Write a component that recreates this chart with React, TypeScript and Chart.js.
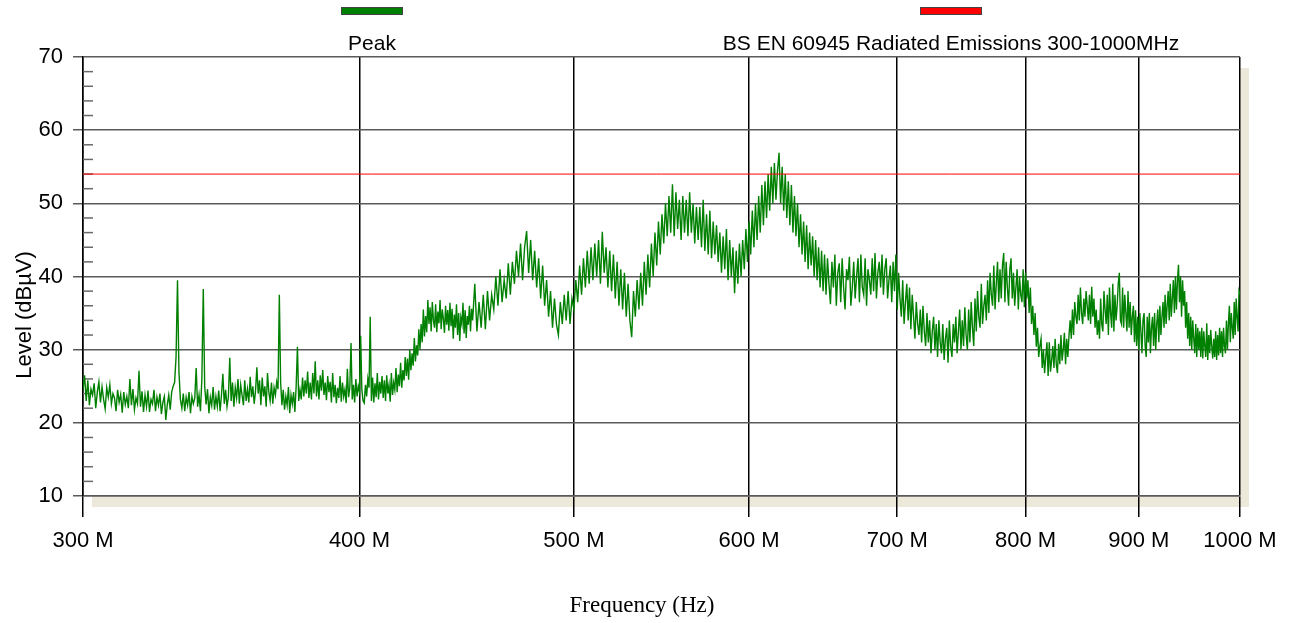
import React, { useEffect, useRef } from 'react';
import { Chart, registerables } from 'chart.js';

Chart.register(...registerables);

// Sweep below 450 MHz: 0.5 MHz step; from 450 MHz: 1 MHz step
const FINE_START_MHZ = 300;
const FINE_STEP_MHZ = 0.5;
const COARSE_START_MHZ = 450;
const COARSE_STEP_MHZ = 1;

// Peak level (dBµV)
const PEAK_300_349 = [
  24.5, 26.5, 23, 25.8, 22.4, 24.6, 23.8, 25.4, 22, 24.2, 25.6, 22.8, 24.9, 23.2, 21.9, 24.8, 23.5, 25.2, 22.6, 24,
  23.4, 21.6, 24.5, 22.8, 23.9, 21.4, 24.2, 22.5, 23.6, 22, 26, 22.4, 24.6, 21.8, 23.4, 22.6, 27.1, 22.2, 24.3, 21.5,
  23.8, 22.2, 24.4, 21.5, 23.2, 22.6, 24.5, 21.6, 23.5, 22.4, 24, 21.2, 22.8, 23.6, 20.4, 22.5, 23.8, 21.8, 24.2, 25,
  25.5, 29, 39.5, 27, 23.2, 22, 24, 21.6, 23.5, 22.4, 24.2, 21.3, 23.6, 22.6, 23.4, 27.5, 22.2, 23.8, 21.6, 26,
  38.3, 25, 22.5, 24.6, 21.3, 23.5, 22.4, 24.9, 21.8, 23.6, 22.2, 24.4, 21.6, 23.8, 26.7, 22.6, 24.5, 22.2, 23.5, 28.9,
];
const PEAK_350_399 = [
  23, 25.5, 22.2, 24.8, 23.4, 26, 22.6, 25.2, 23.8, 22.4, 25.8, 23, 24.6, 22.8, 26.3, 23.5, 25, 22.6, 24.4, 27.6,
  24, 25.8, 22.4, 26.2, 23.6, 25, 22.2, 26.8, 24.2, 23, 25.5, 22.6, 24.8, 23.8, 25.6, 24.6, 37.5, 25.5, 22.4, 24.5,
  21.8, 23.6, 22.4, 24.9, 21.3, 23.8, 22.6, 24.2, 21.5, 25, 30.4, 23, 24.5, 23.2, 26.2, 23.6, 25.8, 24, 27, 23.4,
  25.5, 23.2, 26.8, 24, 28.4, 23.6, 25.8, 23.2, 26.5, 24.4, 27.2, 23.8, 25.5, 23.1, 26.4, 24.2, 25.6, 22.8, 26.8, 23.5,
  25.2, 22.7, 24.8, 23.4, 26.4, 22.9, 25.5, 23.6, 24.6, 22.7, 27.4, 23.5, 24.8, 30.9, 23.2, 25.2, 22.8, 26, 23.6, 25,
];
const PEAK_400_449 = [
  24.2, 31.9, 24.5, 23, 22.7, 25.2, 23.6, 26, 24.8, 34.5, 23, 26.2, 22.8, 25.4, 23.5, 26.8, 23.2, 25.6, 24, 26.4,
  23.4, 25.8, 23, 26.5, 24, 25.2, 22.9, 26.8, 23.8, 25.5, 24.5, 27.5, 24.2, 26.6, 25, 28.2, 24.8, 27.2, 25.8, 29,
  26.4, 28.8, 25.9, 30, 27.2, 29.5, 27.8, 31.6, 28.4, 30.6, 29.2, 32.8, 30, 33.5, 31, 35.5, 31.8, 34.6, 32.4, 36.8,
  33.5, 35.8, 32.5, 36.5, 34, 33, 36.2, 32.4, 35.2, 33.6, 36.8, 32.8, 35.5, 34.2, 32.3, 36, 33.4, 35.4, 32.6, 36.4,
  33.2, 35.6, 31.5, 34.8, 33, 36.2, 32, 35, 31.2, 34.4, 33.5, 36.4, 32.2, 35.4, 31.6, 34.6, 33.4, 36, 32.5, 35.6,
];
const PEAK_450_549 = [
  34, 39, 32.5, 36.5, 33, 37.5, 32.8, 38, 34, 37.5,
  35.5, 40, 36, 41, 36.5, 39.5, 37, 41.8, 37.5, 42,
  39, 43.5, 40, 44.5, 39.5, 44, 46.2, 40.5, 45, 39.5,
  43.5, 38.5, 42.5, 37, 41.5, 36, 39.5, 34.5, 38, 33,
  37, 33.5, 32, 36.5, 33.5, 37.5, 34, 38, 33.5, 37,
  35.5, 39.5, 36.5, 41.5, 37.5, 42.5, 38.5, 43.5, 39, 44,
  39.5, 44.5, 40, 45, 39, 46.1, 40.5, 44, 38.5, 43.5,
  38, 43, 37, 42, 36, 41, 35.5, 40.5, 34.5, 39,
  34, 31.7, 38, 34.5, 39.5, 35.5, 40.5, 36, 42, 37.5,
  43, 38.5, 44.5, 40, 46, 41.5, 47.5, 43, 48.5, 44.5,
];
const PEAK_550_649 = [
  50, 45.5, 51, 46, 52.6, 45.5, 51.5, 46.5, 50.5, 45,
  51, 46, 50.5, 45.5, 51.5, 46, 50, 44.5, 49.5, 45,
  49.5, 44, 50.5, 43.5, 48.5, 43, 49, 42.5, 47.5, 43,
  47, 42, 46, 40.5, 45.5, 41, 46.5, 39.5, 45, 40,
  44, 37.7, 43.5, 39, 44.5, 40, 45, 41, 46.5, 42,
  47.5, 43, 49, 44, 50, 45, 51, 46, 52.5, 47,
  53, 48, 54, 49, 55, 50, 55.5, 50.5, 54.5, 56.9,
  50, 55, 49, 54, 48, 53, 47, 52.5, 46, 51,
  45.5, 50, 44, 48.5, 43, 47.5, 42, 47, 41, 46,
  41.5, 45.5, 40, 45, 39.5, 44, 38.5, 43.5, 38, 43,
];
const PEAK_650_749 = [
  37.5, 42.5, 39, 36.2, 42, 38.5, 43, 36, 40.5, 41.8,
  36.5, 42.5, 38.5, 35.5, 41, 39.5, 42.7, 36, 38.5, 42,
  37, 40, 42.5, 36.5, 43, 38.5, 37.5, 42.5, 36, 41,
  39.5, 37.5, 42.5, 38, 43.2, 37, 40.5, 42, 38.5, 43,
  37.5, 41, 42.5, 37, 39.5, 41.5, 36.5, 42, 38, 43,
  35.5, 40.5, 37, 34.5, 39.5, 33.5, 36.5, 39, 34, 38.5,
  32.8, 37.5, 34.5, 31.5, 36.5, 33.5, 32, 35.5, 31, 36,
  32.5, 30.5, 35, 31, 34, 29.5, 32.5, 34.5, 30, 33.5,
  29, 34, 31, 29.5, 33.5, 28.6, 31.5, 33, 28.2, 34,
  30.5, 29, 33.5, 31, 34.5, 29.5, 32.5, 35.5, 30, 34,
];
const PEAK_750_849 = [
  30.5, 35.8, 32, 30, 35.5, 31, 36.5, 33, 30.5, 37,
  32.5, 38, 34.5, 33, 39, 33.5, 36, 37.5, 34, 39.5,
  35, 40.5, 37.5, 36, 41.5, 35.5, 39, 42, 36.5, 41,
  37, 41.5, 43.2, 36.5, 42, 38.5, 36, 41, 42.5, 37,
  40.5, 36, 38.5, 41, 35.5, 40, 37.5, 36.5, 41, 35.8,
  40.5, 37, 39.5, 35, 38.5, 33.5, 36, 32, 35, 30.4,
  33, 29, 30.5, 31.5, 27.5, 30, 26.8, 29, 31, 26.4,
  31, 27, 28.5, 30.5, 27.5, 31.5, 28, 26.8, 30.8, 28,
  32, 28.5, 30, 32.3, 28, 31.5, 29, 32, 34, 31.5,
  35.5, 32, 36.5, 34.5, 33.5, 37.5, 34, 38.5, 35, 33.5,
];
const PEAK_850_949 = [
  37, 34.5, 38, 36, 34, 37.5, 33.5, 38.6, 34.5, 37,
  33, 35.5, 32, 34, 31.5, 37, 33.5, 32.5, 38, 35.5,
  33.5, 37.5, 32, 38.5, 35, 33, 39, 32.5, 37.5, 34,
  36, 39, 40.5, 34, 33.5, 38.5, 33, 37.5, 35, 32.5,
  38, 33, 36.5, 32, 34.5, 36, 31, 35.4, 30.5, 34.5,
  30, 35, 32.5, 29.5, 34, 35, 30.5, 29, 34.5, 31,
  35, 29.5, 33, 34.5, 30.5, 35, 30, 33.5, 35.5, 31,
  36, 32, 34.5, 36.5, 33, 37.5, 33.5, 36, 38, 34,
  39, 34.5, 37, 39.5, 35, 40, 35.5, 39.5, 41.6, 36.5,
  40, 34.5, 39.5, 36, 38, 33, 36.5, 31.5, 35, 30.5,
];
const PEAK_950_1000 = [
  34.5, 30, 34, 31.5, 29.5, 33.5, 29, 33, 30, 32.5,
  29, 33, 28.8, 32.5, 30.5, 29, 33.6, 28.6, 32, 29.5,
  32.7, 30.5, 28.8, 31.5, 29, 32.5, 28.6, 32, 29.2, 33,
  29.5, 32.5, 29, 33, 30.5, 29.5, 34, 30, 33.5, 36,
  31, 35, 33, 31.5, 36.5, 32, 37, 34.5, 32.5, 38, 37.5,
];

const LIMIT_FREQ_MHZ = [300, 1000];
const LIMIT_LEVEL = [54, 54];

const X_TICKS_MHZ = [300, 400, 500, 600, 700, 800, 900, 1000];
const X_TICK_LABELS = ['300 M', '400 M', '500 M', '600 M', '700 M', '800 M', '900 M', '1000 M'];
const Y_MIN = 10;
const Y_MAX = 70;
const Y_STEP = 10;
const Y_MINOR_STEP = 2;

const SERIES_LABELS = ['Peak', 'BS EN 60945 Radiated Emissions 300-1000MHz'];
const SERIES_COLORS = ['#008000', '#ff0000'];
const X_TITLE = 'Frequency (Hz)';
const Y_TITLE = 'Level (dBµV)';

const SANS = '"Liberation Sans", Arial, sans-serif';
const SERIF = '"Liberation Serif", "Times New Roman", serif';

const decorPlugin = {
  id: 'decor',
  beforeDraw(chart: any) {
    const { ctx, chartArea: a } = chart;
    ctx.save();
    ctx.fillStyle = '#ffffff';
    ctx.fillRect(0, 0, chart.width, chart.height);
    ctx.fillStyle = '#ECE8DA';
    ctx.fillRect(a.left + 9, a.top + 11, a.right - a.left, a.bottom - a.top);
    ctx.fillStyle = '#ffffff';
    ctx.fillRect(a.left, a.top, a.right - a.left, a.bottom - a.top);
    ctx.restore();
  },
  beforeDatasetsDraw(chart: any) {
    const { ctx, chartArea: a } = chart;
    const ys = chart.scales.y;
    ctx.save();
    ctx.strokeStyle = '#6a6a6a';
    ctx.lineWidth = 1.5;
    for (let v = Y_MIN; v <= Y_MAX; v += Y_MINOR_STEP) {
      if (v % Y_STEP === 0) continue;
      const py = ys.getPixelForValue(v);
      ctx.beginPath();
      ctx.moveTo(a.left, py);
      ctx.lineTo(a.left + 10, py);
      ctx.stroke();
    }
    ctx.restore();
  },
  afterDraw(chart: any) {
    const { ctx } = chart;
    ctx.save();
    const centers = [372, 951];
    chart.data.datasets.forEach((ds: any, i: number) => {
      const cx = centers[i];
      ctx.fillStyle = ds.borderColor;
      ctx.fillRect(cx - 31, 7, 62, 8);
      ctx.strokeStyle = '#444';
      ctx.lineWidth = 1;
      ctx.strokeRect(cx - 31 + 0.5, 7.5, 61, 7);
      ctx.fillStyle = '#000';
      ctx.font = `21px ${SANS}`;
      ctx.textAlign = 'center';
      ctx.textBaseline = 'alphabetic';
      ctx.fillText(ds.label, cx, 50);
    });
    ctx.font = `23px ${SERIF}`;
    ctx.textAlign = 'center';
    ctx.fillStyle = '#000';
    ctx.fillText(X_TITLE, 642, 612);
    ctx.translate(31, 315);
    ctx.rotate(-Math.PI / 2);
    ctx.font = `22px ${SANS}`;
    ctx.fillText(Y_TITLE, 0, 0);
    ctx.restore();
  },
};

export default function App() {
  const ref = useRef<HTMLCanvasElement>(null);
  useEffect(() => {
    document.body.style.margin = '0';
    const fine = [...PEAK_300_349, ...PEAK_350_399, ...PEAK_400_449];
    const coarse = [
      ...PEAK_450_549,
      ...PEAK_550_649,
      ...PEAK_650_749,
      ...PEAK_750_849,
      ...PEAK_850_949,
      ...PEAK_950_1000,
    ];
    const peakData = [
      ...fine.map((y, i) => ({ x: FINE_START_MHZ + i * FINE_STEP_MHZ, y })),
      ...coarse.map((y, i) => ({ x: COARSE_START_MHZ + i * COARSE_STEP_MHZ, y })),
    ];
    const limitData = LIMIT_FREQ_MHZ.map((x, i) => ({ x, y: LIMIT_LEVEL[i] }));
    const chart = new Chart(ref.current as HTMLCanvasElement, {
      type: 'line',
      data: {
        datasets: [
          {
            label: SERIES_LABELS[0],
            data: peakData,
            borderColor: SERIES_COLORS[0],
            borderWidth: 1.4,
            pointRadius: 0,
            tension: 0,
            order: 1,
          },
          {
            label: SERIES_LABELS[1],
            data: limitData,
            borderColor: SERIES_COLORS[1],
            borderWidth: 1,
            pointRadius: 0,
            tension: 0,
            order: 0,
          },
        ],
      },
      options: {
        animation: false,
        responsive: false,
        devicePixelRatio: 1,
        layout: { padding: { left: 0, right: 50, top: 57, bottom: 0 } },
        plugins: { legend: { display: false }, tooltip: { enabled: false } },
        scales: {
          x: {
            type: 'logarithmic',
            min: 300,
            max: 1000,
            afterBuildTicks: (s: any) => {
              s.ticks = X_TICKS_MHZ.map((value) => ({ value }));
            },
            afterFit: (s: any) => {
              s.height = 127;
            },
            grid: { color: '#000', lineWidth: 1.5, tickLength: 21 },
            border: { display: true, color: '#5a5a5a', width: 1.5 },
            ticks: {
              autoSkip: false,
              maxRotation: 0,
              minRotation: 0,
              padding: 11,
              color: '#000',
              font: { family: SANS, size: 22 },
              callback: (_v: any, i: number) => X_TICK_LABELS[i],
            },
          },
          y: {
            type: 'linear',
            min: Y_MIN,
            max: Y_MAX,
            afterFit: (s: any) => {
              s.width = 83;
            },
            grid: { color: '#5a5a5a', lineWidth: 1.5, tickLength: 10 },
            border: { display: true, color: '#000', width: 1.5 },
            ticks: {
              stepSize: Y_STEP,
              padding: 10,
              color: '#000',
              font: { family: SANS, size: 22 },
            },
          },
        },
      },
      plugins: [decorPlugin],
    } as any);
    return () => chart.destroy();
  }, []);
  return (
    <canvas
      ref={ref}
      width={1290}
      height={623}
      style={{ position: 'absolute', left: 0, top: 0 }}
    />
  );
}
